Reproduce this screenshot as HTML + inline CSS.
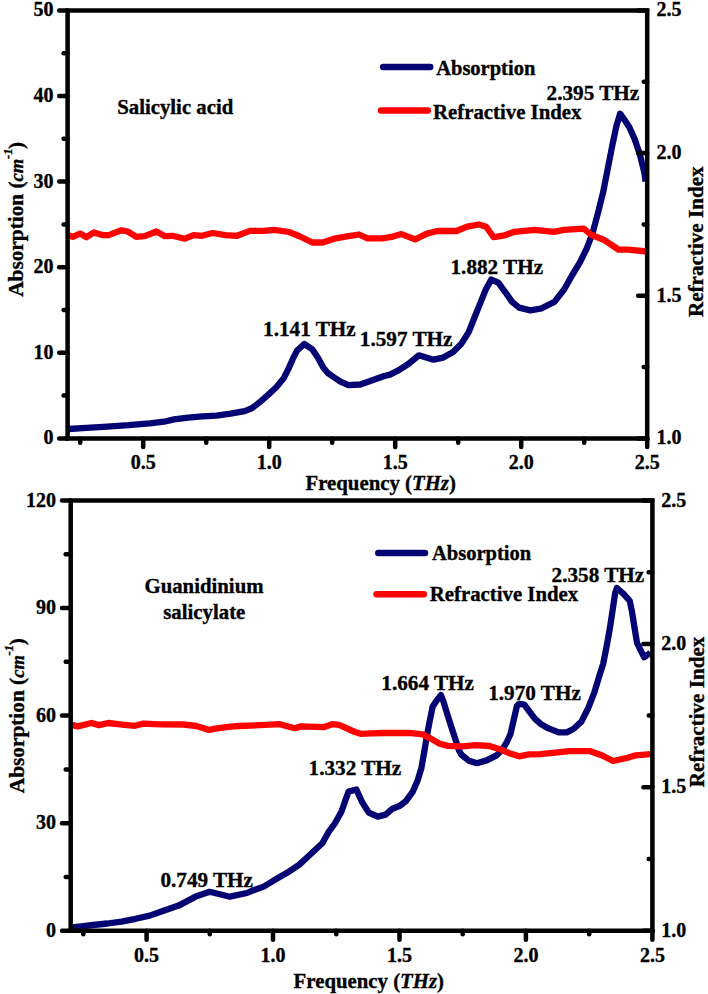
<!DOCTYPE html>
<html><head><meta charset="utf-8"><style>
html,body{margin:0;padding:0;background:#fff;}
svg{display:block;opacity:0.999;}
text.t{font-size:20px;}
text.a{font-size:21.2px;}
text{font-family:"Liberation Serif",serif;font-weight:bold;font-size:20.8px;fill:#000;stroke:#000;stroke-width:0.35px;}
</style></head><body>
<svg width="708" height="994" viewBox="0 0 708 994">
<rect width="708" height="994" fill="#fff"/>
<!-- top chart -->
<polyline points="67.6,429.2 69.2,429.0 86.2,427.8 107.4,426.6 128.6,425.2 149.7,423.3 163.9,421.7 174.1,419.4 188.2,417.6 202.4,416.4 216.5,415.6 230.6,413.7 244.7,411.1 251.8,408.3 259.0,402.8 268.1,394.9 276.0,387.5 283.9,377.9 288.4,368.9 292.9,358.7 296.9,350.8 304.2,344.0 312.1,349.1 317.8,357.6 323.4,367.8 328.0,373.2 333.5,377.0 340.5,381.7 348.3,385.2 360.3,384.5 370.2,381.0 384.3,376.0 390.0,374.6 398.4,370.4 408.3,364.0 418.9,355.3 433.4,359.7 443.2,357.6 453.1,351.9 461.6,343.4 468.7,332.1 474.3,318.0 480.0,303.9 485.6,289.8 491.3,279.6 498.3,282.7 505.4,292.3 512.1,301.9 519.1,307.6 530.4,310.4 541.7,308.3 554.4,301.9 564.3,289.2 571.4,276.5 579.9,262.4 586.9,248.2 592.6,233.0 598.1,212.5 603.3,191.6 607.9,168.0 612.5,144.5 616.4,126.2 620.1,113.7 624.3,119.6 629.5,127.5 634.7,139.3 640.0,155.0 644.5,173.3 645.5,181.5" fill="none" stroke="#040472" stroke-width="6.3" stroke-linejoin="round" stroke-linecap="butt"/>
<polyline points="67.6,235.0 72.7,236.8 80.1,233.6 86.5,237.2 93.9,232.4 102.4,235.1 108.7,235.1 121.4,230.3 127.8,231.5 136.3,236.8 144.7,236.2 156.4,231.5 164.9,236.2 172.3,235.8 185.0,238.7 193.5,235.1 202.0,235.8 212.7,233.0 225.4,235.1 237.1,235.8 249.8,230.9 263.6,230.9 274.2,229.8 289.0,232.0 299.6,236.2 312.3,242.5 322.9,242.5 335.6,238.3 348.5,236.2 359.1,234.5 367.5,238.3 382.4,238.3 393.0,236.6 401.4,234.1 415.2,239.4 426.9,233.6 437.5,231.0 456.5,231.0 467.1,226.7 478.8,224.5 486.2,226.7 493.6,237.2 504.7,235.3 514.6,231.8 534.4,229.8 554.1,231.8 564.0,229.8 583.8,228.6 591.2,234.8 603.6,239.7 618.4,249.5 628.3,249.6 647.0,251.5" fill="none" stroke="#fe0101" stroke-width="6.3" stroke-linejoin="round" stroke-linecap="butt"/>
<path d="M67.6,10.4 H647.2 V438.4 H67.6 Z" fill="none" stroke="#000" stroke-width="4.5" stroke-linejoin="miter"/>
<line x1="67.6" y1="438.4" x2="59.2" y2="438.4" stroke="#000" stroke-width="4.5" stroke-linecap="round"/>
<text class="t" x="53.4" y="444.4" text-anchor="end">0</text>
<line x1="67.6" y1="352.8" x2="59.2" y2="352.8" stroke="#000" stroke-width="4.5" stroke-linecap="round"/>
<text class="t" x="53.4" y="358.8" text-anchor="end">10</text>
<line x1="67.6" y1="267.2" x2="59.2" y2="267.2" stroke="#000" stroke-width="4.5" stroke-linecap="round"/>
<text class="t" x="53.4" y="273.2" text-anchor="end">20</text>
<line x1="67.6" y1="181.6" x2="59.2" y2="181.6" stroke="#000" stroke-width="4.5" stroke-linecap="round"/>
<text class="t" x="53.4" y="187.6" text-anchor="end">30</text>
<line x1="67.6" y1="96.0" x2="59.2" y2="96.0" stroke="#000" stroke-width="4.5" stroke-linecap="round"/>
<text class="t" x="53.4" y="102.0" text-anchor="end">40</text>
<line x1="67.6" y1="10.4" x2="59.2" y2="10.4" stroke="#000" stroke-width="4.5" stroke-linecap="round"/>
<text class="t" x="53.4" y="16.4" text-anchor="end">50</text>
<line x1="67.6" y1="395.6" x2="63.6" y2="395.6" stroke="#000" stroke-width="4.5" stroke-linecap="round"/>
<line x1="67.6" y1="310.0" x2="63.6" y2="310.0" stroke="#000" stroke-width="4.5" stroke-linecap="round"/>
<line x1="67.6" y1="224.4" x2="63.6" y2="224.4" stroke="#000" stroke-width="4.5" stroke-linecap="round"/>
<line x1="67.6" y1="138.8" x2="63.6" y2="138.8" stroke="#000" stroke-width="4.5" stroke-linecap="round"/>
<line x1="67.6" y1="53.2" x2="63.6" y2="53.2" stroke="#000" stroke-width="4.5" stroke-linecap="round"/>
<line x1="647.2" y1="438.4" x2="638.2" y2="438.4" stroke="#000" stroke-width="4.5" stroke-linecap="round"/>
<text class="t" x="656.4" y="444.4">1.0</text>
<line x1="647.2" y1="295.7" x2="638.2" y2="295.7" stroke="#000" stroke-width="4.5" stroke-linecap="round"/>
<text class="t" x="656.4" y="301.7">1.5</text>
<line x1="647.2" y1="153.1" x2="638.2" y2="153.1" stroke="#000" stroke-width="4.5" stroke-linecap="round"/>
<text class="t" x="656.4" y="159.1">2.0</text>
<line x1="647.2" y1="10.4" x2="638.2" y2="10.4" stroke="#000" stroke-width="4.5" stroke-linecap="round"/>
<text class="t" x="656.4" y="16.4">2.5</text>
<line x1="647.2" y1="367.1" x2="643.7" y2="367.1" stroke="#000" stroke-width="4.5" stroke-linecap="round"/>
<line x1="647.2" y1="224.4" x2="643.7" y2="224.4" stroke="#000" stroke-width="4.5" stroke-linecap="round"/>
<line x1="647.2" y1="81.7" x2="643.7" y2="81.7" stroke="#000" stroke-width="4.5" stroke-linecap="round"/>
<line x1="143.2" y1="438.4" x2="143.2" y2="447.0" stroke="#000" stroke-width="4.5" stroke-linecap="round"/>
<text class="t" x="143.2" y="468.7" text-anchor="middle">0.5</text>
<line x1="269.2" y1="438.4" x2="269.2" y2="447.0" stroke="#000" stroke-width="4.5" stroke-linecap="round"/>
<text class="t" x="269.2" y="468.7" text-anchor="middle">1.0</text>
<line x1="395.2" y1="438.4" x2="395.2" y2="447.0" stroke="#000" stroke-width="4.5" stroke-linecap="round"/>
<text class="t" x="395.2" y="468.7" text-anchor="middle">1.5</text>
<line x1="521.2" y1="438.4" x2="521.2" y2="447.0" stroke="#000" stroke-width="4.5" stroke-linecap="round"/>
<text class="t" x="521.2" y="468.7" text-anchor="middle">2.0</text>
<line x1="647.2" y1="438.4" x2="647.2" y2="447.0" stroke="#000" stroke-width="4.5" stroke-linecap="round"/>
<text class="t" x="647.2" y="468.7" text-anchor="middle">2.5</text>
<line x1="80.2" y1="438.4" x2="80.2" y2="442.7" stroke="#000" stroke-width="4.5" stroke-linecap="round"/>
<line x1="206.2" y1="438.4" x2="206.2" y2="442.7" stroke="#000" stroke-width="4.5" stroke-linecap="round"/>
<line x1="332.2" y1="438.4" x2="332.2" y2="442.7" stroke="#000" stroke-width="4.5" stroke-linecap="round"/>
<line x1="458.2" y1="438.4" x2="458.2" y2="442.7" stroke="#000" stroke-width="4.5" stroke-linecap="round"/>
<line x1="584.2" y1="438.4" x2="584.2" y2="442.7" stroke="#000" stroke-width="4.5" stroke-linecap="round"/>
<text x="117.2" y="113.8">Salicylic acid</text>
<line x1="383.2" y1="66.95" x2="430.2" y2="66.95" stroke="#040472" stroke-width="6.5" stroke-linecap="round"/>
<text x="436.2" y="75.2" style="font-size:20.5px">Absorption</text>
<line x1="381" y1="110.6" x2="427.8" y2="110.6" stroke="#fe0101" stroke-width="6.5" stroke-linecap="round"/>
<text x="433" y="119">Refractive Index</text>
<text class="a" x="263.1" y="336.0">1.141 THz</text>
<text class="a" x="359.8" y="346.1">1.597 THz</text>
<text class="a" x="450.5" y="274.1">1.882 THz</text>
<text class="a" x="546.6" y="100.1">2.395 THz</text>
<text x="305.5" y="489.7">Frequency (<tspan font-style="italic">THz</tspan>)</text>
<text transform="translate(23.0,296.8) rotate(-90)" style="font-size:21.3px">Absorption (<tspan font-style="italic" style="font-size:18.6px">cm</tspan><tspan font-style="italic" style="font-size:12.5px" dy="-11" dx="-0.3">-1</tspan><tspan dy="11" dx="-0.3">)</tspan></text>
<text transform="translate(703.3,317) rotate(-90)" style="font-size:21.1px">Refractive Index</text>
<!-- bottom chart -->
<polyline points="70.7,927.5 79.1,926.6 93.2,925.0 107.4,923.5 121.5,921.6 135.6,918.8 149.7,915.6 160.0,912.0 178.6,905.6 195.7,896.6 209.7,891.8 229.9,896.7 247.0,893.0 251.9,890.8 263.7,886.6 273.6,880.6 287.5,872.6 299.3,864.6 310.5,854.2 322.3,843.3 328.3,832.4 334.8,823.5 341.4,811.7 345.4,800.2 348.6,791.6 356.4,789.5 361.9,801.8 368.8,812.6 377.7,816.6 385.6,814.6 392.5,808.7 400.0,805.8 406.3,800.7 412.6,791.9 417.6,780.6 421.4,768.0 424.5,750.4 427.0,735.3 429.6,721.5 432.7,706.4 436.5,700.7 440.9,695.1 443.4,701.4 447.2,713.9 451.6,727.8 455.3,739.1 459.0,750.5 461.5,754.8 468.4,760.4 476.8,763.2 486.7,760.4 496.6,755.4 502.3,749.5 506.5,742.7 510.5,734.0 514.1,718.2 517.0,705.8 519.2,703.8 524.3,704.7 529.4,711.5 535.0,718.8 540.7,723.9 548.6,728.4 558.8,732.4 566.7,732.4 573.4,729.0 581.4,721.6 587.9,708.8 594.3,692.7 599.1,676.6 603.2,663.7 606.4,647.6 609.6,629.9 612.8,609.0 615.2,592.9 616.9,588.0 623.3,593.7 629.7,600.9 632.1,612.2 634.6,628.3 637.0,642.8 644.2,657.3 650.5,652.7" fill="none" stroke="#040472" stroke-width="6.3" stroke-linejoin="round" stroke-linecap="butt"/>
<polyline points="70.7,724.6 77.7,726.4 91.5,723.0 98.9,725.1 108.4,723.0 122.2,724.7 134.9,725.8 143.4,723.6 160.3,724.3 183.6,724.5 196.4,726.0 209.1,730.0 215.0,728.6 230.4,726.6 238.9,726.0 260.0,725.2 279.8,724.2 294.6,728.2 301.0,726.4 323.6,727.2 332.0,724.2 339.1,724.9 355.0,732.0 360.6,733.8 372.0,733.4 383.2,733.0 408.7,732.8 422.8,734.4 431.3,738.9 439.7,743.8 448.2,745.9 462.7,746.3 475.4,745.2 489.5,746.0 500.8,749.6 509.3,753.2 519.2,756.3 529.1,754.3 540.0,754.2 553.0,752.9 569.2,751.2 590.3,751.2 601.7,755.3 613.1,761.0 627.7,757.7 635.8,755.3 650.4,754.2" fill="none" stroke="#fe0101" stroke-width="6.3" stroke-linejoin="round" stroke-linecap="butt"/>
<path d="M70.7,500.5 H652.4 V930.7 H70.7 Z" fill="none" stroke="#000" stroke-width="4.5" stroke-linejoin="miter"/>
<line x1="70.7" y1="930.7" x2="62.0" y2="930.7" stroke="#000" stroke-width="4.5" stroke-linecap="round"/>
<text class="t" x="56.0" y="936.7" text-anchor="end">0</text>
<line x1="70.7" y1="823.2" x2="62.0" y2="823.2" stroke="#000" stroke-width="4.5" stroke-linecap="round"/>
<text class="t" x="56.0" y="829.2" text-anchor="end">30</text>
<line x1="70.7" y1="715.6" x2="62.0" y2="715.6" stroke="#000" stroke-width="4.5" stroke-linecap="round"/>
<text class="t" x="56.0" y="721.6" text-anchor="end">60</text>
<line x1="70.7" y1="608.0" x2="62.0" y2="608.0" stroke="#000" stroke-width="4.5" stroke-linecap="round"/>
<text class="t" x="56.0" y="614.0" text-anchor="end">90</text>
<line x1="70.7" y1="500.5" x2="62.0" y2="500.5" stroke="#000" stroke-width="4.5" stroke-linecap="round"/>
<text class="t" x="56.0" y="506.5" text-anchor="end">120</text>
<line x1="70.7" y1="876.9" x2="65.7" y2="876.9" stroke="#000" stroke-width="4.5" stroke-linecap="round"/>
<line x1="70.7" y1="769.4" x2="65.7" y2="769.4" stroke="#000" stroke-width="4.5" stroke-linecap="round"/>
<line x1="70.7" y1="661.8" x2="65.7" y2="661.8" stroke="#000" stroke-width="4.5" stroke-linecap="round"/>
<line x1="70.7" y1="554.3" x2="65.7" y2="554.3" stroke="#000" stroke-width="4.5" stroke-linecap="round"/>
<line x1="652.4" y1="930.7" x2="643.4" y2="930.7" stroke="#000" stroke-width="4.5" stroke-linecap="round"/>
<text class="t" x="661.3" y="936.7">1.0</text>
<line x1="652.4" y1="787.3" x2="643.4" y2="787.3" stroke="#000" stroke-width="4.5" stroke-linecap="round"/>
<text class="t" x="661.3" y="793.3">1.5</text>
<line x1="652.4" y1="643.9" x2="643.4" y2="643.9" stroke="#000" stroke-width="4.5" stroke-linecap="round"/>
<text class="t" x="661.3" y="649.9">2.0</text>
<line x1="652.4" y1="500.5" x2="643.4" y2="500.5" stroke="#000" stroke-width="4.5" stroke-linecap="round"/>
<text class="t" x="661.3" y="506.5">2.5</text>
<line x1="652.4" y1="859.0" x2="648.7" y2="859.0" stroke="#000" stroke-width="4.5" stroke-linecap="round"/>
<line x1="652.4" y1="715.6" x2="648.7" y2="715.6" stroke="#000" stroke-width="4.5" stroke-linecap="round"/>
<line x1="652.4" y1="572.2" x2="648.7" y2="572.2" stroke="#000" stroke-width="4.5" stroke-linecap="round"/>
<line x1="146.6" y1="930.7" x2="146.6" y2="939.7" stroke="#000" stroke-width="4.5" stroke-linecap="round"/>
<text class="t" x="146.6" y="961.5" text-anchor="middle">0.5</text>
<line x1="273.0" y1="930.7" x2="273.0" y2="939.7" stroke="#000" stroke-width="4.5" stroke-linecap="round"/>
<text class="t" x="273.0" y="961.5" text-anchor="middle">1.0</text>
<line x1="399.5" y1="930.7" x2="399.5" y2="939.7" stroke="#000" stroke-width="4.5" stroke-linecap="round"/>
<text class="t" x="399.5" y="961.5" text-anchor="middle">1.5</text>
<line x1="525.9" y1="930.7" x2="525.9" y2="939.7" stroke="#000" stroke-width="4.5" stroke-linecap="round"/>
<text class="t" x="525.9" y="961.5" text-anchor="middle">2.0</text>
<line x1="652.4" y1="930.7" x2="652.4" y2="939.7" stroke="#000" stroke-width="4.5" stroke-linecap="round"/>
<text class="t" x="652.4" y="961.5" text-anchor="middle">2.5</text>
<line x1="83.3" y1="930.7" x2="83.3" y2="934.3" stroke="#000" stroke-width="4.5" stroke-linecap="round"/>
<line x1="209.8" y1="930.7" x2="209.8" y2="934.3" stroke="#000" stroke-width="4.5" stroke-linecap="round"/>
<line x1="336.3" y1="930.7" x2="336.3" y2="934.3" stroke="#000" stroke-width="4.5" stroke-linecap="round"/>
<line x1="462.7" y1="930.7" x2="462.7" y2="934.3" stroke="#000" stroke-width="4.5" stroke-linecap="round"/>
<line x1="589.2" y1="930.7" x2="589.2" y2="934.3" stroke="#000" stroke-width="4.5" stroke-linecap="round"/>
<text x="204" y="592.5" text-anchor="middle">Guanidinium</text>
<text x="204.3" y="618.6" text-anchor="middle">salicylate</text>
<line x1="378.3" y1="553" x2="425" y2="553" stroke="#040472" stroke-width="6.5" stroke-linecap="round"/>
<text x="432" y="559.9" style="font-size:20.5px">Absorption</text>
<line x1="376.5" y1="594.3" x2="423.8" y2="594.3" stroke="#fe0101" stroke-width="6.5" stroke-linecap="round"/>
<text x="429.8" y="600.5">Refractive Index</text>
<text class="a" x="160.4" y="887.2">0.749 THz</text>
<text class="a" x="308.6" y="775.2">1.332 THz</text>
<text class="a" x="381.3" y="689.5">1.664 THz</text>
<text class="a" x="488.2" y="700.1">1.970 THz</text>
<text class="a" x="551.6" y="582.1">2.358 THz</text>
<text x="293.6" y="988.1">Frequency (<tspan font-style="italic">THz</tspan>)</text>
<text transform="translate(24.4,793.2) rotate(-90)" style="font-size:21.3px">Absorption (<tspan font-style="italic" style="font-size:18.6px">cm</tspan><tspan font-style="italic" style="font-size:12.5px" dy="-11" dx="-0.3">-1</tspan><tspan dy="11" dx="-0.3">)</tspan></text>
<text transform="translate(703.8,787.2) rotate(-90)" style="font-size:21.1px">Refractive Index</text>
</svg>
</body></html>
